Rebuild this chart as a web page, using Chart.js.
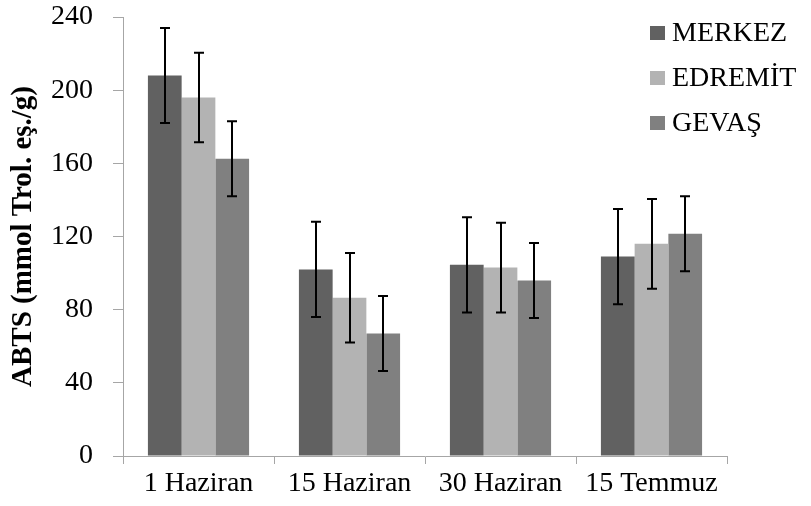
<!DOCTYPE html>
<html>
<head>
<meta charset="utf-8">
<script src="https://cdn.jsdelivr.net/npm/chart.js@4"></script>
<style>
  html, body { margin: 0; padding: 0; background: #fff; }
  #wrap { width: 811px; height: 506px; }
</style>
</head>
<body>
<div id="wrap"><canvas id="abtsChart"></canvas></div>
<script>
const labels = ['1 Haziran', '15 Haziran', '30 Haziran', '15 Temmuz'];

const merkez = [208, 102, 104.5, 109];
const edremit = [196, 86.5, 103, 116];
const gevas = [162.5, 67, 96, 121.5];

const merkezErr = [26, 26, 26, 26];
const edremitErr = [24.5, 24.5, 24.5, 24.5];
const gevasErr = [20.5, 20.5, 20.5, 20.5];

const yTicks = [0, 40, 80, 120, 160, 200, 240];

const serif = "'Liberation Serif', 'Times New Roman', serif";
const axisGray = '#a6a6a6';

// error bars drawn from the bar elements and the y scale
const errorBars = {
    id: 'errorBars',
    afterDatasetsDraw(chart) {
        const ctx = chart.ctx;
        const y = chart.scales.y;
        ctx.save();
        ctx.strokeStyle = '#000';
        ctx.lineWidth = 2;
        chart.data.datasets.forEach((ds, i) => {
            const meta = chart.getDatasetMeta(i);
            meta.data.forEach((bar, j) => {
                const v = ds.data[j];
                const e = ds.errors[j];
                const top = y.getPixelForValue(v + e);
                const bot = y.getPixelForValue(v - e);
                const x = Math.round(bar.x);
                ctx.beginPath();
                ctx.moveTo(x, top);
                ctx.lineTo(x, bot);
                ctx.moveTo(x - 5, top);
                ctx.lineTo(x + 5, top);
                ctx.moveTo(x - 5, bot);
                ctx.lineTo(x + 5, bot);
                ctx.stroke();
            });
        });
        ctx.restore();
    }
};

// legend in the top right corner
const cornerLegend = {
    id: 'cornerLegend',
    afterDraw(chart) {
        const ctx = chart.ctx;
        ctx.save();
        ctx.font = '28px ' + serif;
        ctx.textBaseline = 'middle';
        chart.data.datasets.forEach((ds, i) => {
            const cy = 33 + i * 45;
            ctx.fillStyle = ds.backgroundColor;
            ctx.fillRect(650, cy - 7, 15, 14);
            ctx.fillStyle = '#000';
            ctx.fillText(ds.label, 672, cy + 1);
        });
        ctx.restore();
    }
};

new Chart(document.getElementById('abtsChart'), {
    type: 'bar',
    data: {
        labels: labels,
        datasets: [
            { label: 'MERKEZ', data: merkez, errors: merkezErr, backgroundColor: '#616161' },
            { label: 'EDREMİT', data: edremit, errors: edremitErr, backgroundColor: '#b3b3b3' },
            { label: 'GEVAŞ', data: gevas, errors: gevasErr, backgroundColor: '#808080' },
        ]
    },
    options: {
        responsive: true,
        maintainAspectRatio: false,
        animation: false,
        categoryPercentage: 0.67,
        barPercentage: 1,
        layout: {
            padding: { left: 0, right: 84, top: 17, bottom: 0 }
        },
        plugins: {
            legend: { display: false },
            tooltip: { enabled: false },
        },
        scales: {
            x: {
                grid: {
                    offset: true,
                    drawOnChartArea: false,
                    tickLength: 8,
                    color: axisGray,
                },
                border: { color: axisGray },
                ticks: {
                    color: '#000',
                    padding: 3,
                    maxRotation: 0,
                    font: { family: serif, size: 28 },
                },
                afterFit(scale) {
                    scale.height = 50;
                    scale.paddingLeft = 0;
                    scale.paddingRight = 0;
                },
            },
            y: {
                min: 0,
                max: 240,
                afterBuildTicks(scale) { scale.ticks = yTicks.map(v => ({ value: v })); },
                grid: {
                    drawOnChartArea: false,
                    tickLength: 10,
                    color: axisGray,
                },
                border: { color: axisGray },
                ticks: {
                    color: '#000',
                    padding: 20,
                    font: { family: serif, size: 28 },
                },
                title: {
                    display: true,
                    text: 'ABTS (mmol Trol. eş./g)',
                    color: '#000',
                    padding: { top: 6, bottom: 0 },
                    font: { family: serif, size: 29, weight: 'bold' },
                },
                afterFit(scale) {
                    scale.width = 123;
                    scale.paddingTop = 0;
                    scale.paddingBottom = 0;
                },
            },
        },
    },
    plugins: [errorBars, cornerLegend],
});
</script>
</body>
</html>
